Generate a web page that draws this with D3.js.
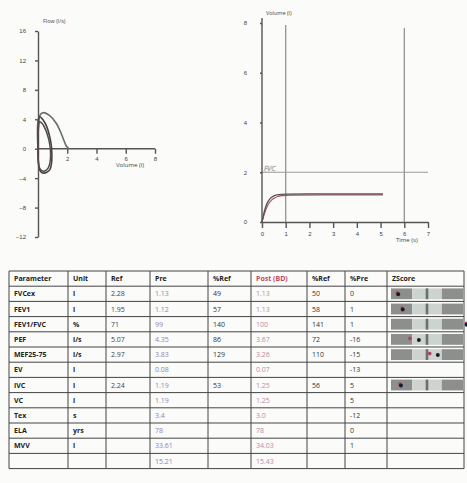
<!DOCTYPE html>
<html>
<head>
<meta charset="utf-8">
<script src="https://cdn.jsdelivr.net/npm/d3@7"></script>
<style>
  body { margin: 0; background: #fbfbfa; }
  svg { display: block; font-family: "Open Sans", sans-serif; }
  .axis path, .axis line { stroke: #555; stroke-width: 1.4; }
  .axis text { fill: #444; font-size: 6px; }
  .grid { stroke: #8a8a8a; stroke-width: 1.2; }
  .tbl line { stroke: #444; stroke-width: 1; }
  .tbl text { font-size: 7px; fill: #333; }
</style>
</head>
<body>
<svg id="page" width="467" height="483"></svg>
<script>
// ---- flow / volume loop (l, l/s) ----
const fvTicksX = [ 2, 4, 6, 8 ]
const fvTicksY = [ -12, -8, -4, 0, 4, 8, 12, 16 ]

const predVol  = [ 0, 0.05, 0.33, 0.8, 1.27, 1.6, 1.93, 2.1 ]
const predFlow = [ 0, 4.2, 4.9, 4.5, 3.4, 2.0, 0.4, 0 ]

const preVol   = [ 0, 0.03, 0.12, 0.35, 0.6, 0.78, 0.9, 0.95, 0.92, 0.82, 0.6, 0.32, 0.12, 0.02, 0 ]
const preFlow  = [ 0, 3.2, 4.35, 3.9, 3.0, 1.8, 0.6, -0.8, -2.0, -2.8, -3.2, -3.3, -2.9, -1.8, 0 ]

const postVol  = [ 0, 0.03, 0.1, 0.3, 0.52, 0.7, 0.82, 0.86, 0.82, 0.7, 0.5, 0.28, 0.1, 0.02, 0 ]
const postFlow = [ 0, 2.8, 3.67, 3.4, 2.6, 1.5, 0.4, -0.8, -1.9, -2.6, -3.0, -3.0, -2.6, -1.5, 0 ]

// ---- volume / time (s, l) ----
const vtTicksX = [ 0, 1, 2, 3, 4, 5, 6, 7 ]
const vtTicksY = [ 0, 2, 4, 6, 8 ]
const vtMarkers = [ 1, 6 ]
const vtRefLevel = 2

const preTime  = [ 0, 0.1, 0.2, 0.35, 0.5, 0.7, 1.0, 2.0, 3.5, 5.1 ]
const preVolT  = [ 0, 0.42, 0.72, 0.95, 1.05, 1.1, 1.12, 1.13, 1.13, 1.13 ]
const postTime = [ 0, 0.12, 0.25, 0.4, 0.6, 0.85, 1.2, 2.5, 5.1 ]
const postVolT = [ 0, 0.38, 0.68, 0.88, 1.0, 1.06, 1.08, 1.09, 1.09 ]

// ---- results table ----
const headers  = [ 'Parameter', 'Unit', 'Ref', 'Pre', '%Ref', 'Post (BD)', '%Ref', '%Pre', 'ZScore' ]
const params   = [ 'FVCex', 'FEV1', 'FEV1/FVC', 'PEF', 'MEF25-75', 'EV', 'IVC', 'VC', 'Tex', 'ELA', 'MVV', '' ]
const units    = [ 'l', 'l', '%', 'l/s', 'l/s', 'l', 'l', 'l', 's', 'yrs', 'l', '' ]
const refVals  = [ '2.28', '1.95', '71', '5.07', '2.97', '', '2.24', '', '', '', '', '' ]
const preVals  = [ '1.13', '1.12', '99', '4.35', '3.83', '0.08', '1.19', '1.19', '3.4', '78', '33.61', '15.21' ]
const preRef   = [ '49', '57', '140', '86', '129', '', '53', '', '', '', '', '' ]
const postVals = [ '1.13', '1.13', '100', '3.67', '3.26', '0.07', '1.25', '1.25', '3.0', '78', '34.03', '15.43' ]
const postRef  = [ '50', '58', '141', '72', '110', '', '56', '', '', '', '', '' ]
const pctPre   = [ '0', '1', '1', '-16', '-15', '-13', '5', '5', '-12', '0', '1', '' ]
const zPre     = [ -3.2, -2.7, 4.4, -0.9, 1.2, null, -2.9, null, null, null, null, null ]
const zPost    = [ -3.3, -2.75, 4.4, -1.9, 0.3, null, -3.0, null, null, null, null, null ]

const svg = d3.select('#page')

// ================= flow-volume =================
const fvX = d3.scaleLinear().domain([ 0, 8 ]).range([ 38, 155 ])
const fvY = d3.scaleLinear().domain([ -12, 16 ]).range([ 237, 31 ])

const fv = svg.append('g')

fv.append('g')
    .attr('class', 'axis')
    .attr('transform', `translate( ${fvX(0)}, 0 )`)
    .call( d3.axisLeft( fvY ).tickValues( fvTicksY ).tickSize(3).tickPadding(9).tickSizeOuter(0) )

fv.append('g')
    .attr('class', 'axis')
    .attr('transform', `translate( 0, ${fvY(0)} )`)
    .call( d3.axisBottom( fvX ).tickValues( fvTicksX ).tickSize(5).tickPadding(3).tickSizeOuter(0) )
    .select('.domain').attr('d', `M${fvX(0)},0H${fvX(8)}`)

fv.append('text').attr('x', 43).attr('y', 23).attr('font-size', 5.5).attr('fill', '#444').text('Flow (l/s)')
fv.append('text').attr('x', 130).attr('y', 167).attr('font-size', 6).attr('fill', '#444')
    .attr('text-anchor', 'middle').text('Volume (l)')

const fvLine = d3.line().x( d => fvX( d[0] ) ).y( d => fvY( d[1] ) ).curve( d3.curveCatmullRom )

fv.append('path')
    .attr('d', fvLine( d3.zip( predVol, predFlow ) ))
    .attr('fill', 'none').attr('stroke', '#6b6b6b').attr('stroke-width', 1.6)
fv.append('path')
    .attr('d', fvLine( d3.zip( preVol, preFlow ) ))
    .attr('fill', 'none').attr('stroke', '#444').attr('stroke-width', 1.6)
fv.append('path')
    .attr('d', fvLine( d3.zip( postVol, postFlow ) ))
    .attr('fill', 'none').attr('stroke', '#5a4848').attr('stroke-width', 1.5)

// ================= volume-time =================
const vtX = d3.scaleLinear().domain([ 0, 7 ]).range([ 262, 428 ])
const vtY = d3.scaleLinear().domain([ 0, 8 ]).range([ 222, 23 ])

const vt = svg.append('g')

vtMarkers.forEach( t => {
    vt.append('line').attr('class', 'grid')
        .attr('x1', vtX(t)).attr('x2', vtX(t))
        .attr('y1', vtY(0)).attr('y2', t === 1 ? 25 : 28)
} )

vt.append('line')
    .attr('x1', vtX(0)).attr('x2', vtX(7))
    .attr('y1', vtY(vtRefLevel)).attr('y2', vtY(vtRefLevel))
    .attr('stroke', '#9a9a9a').attr('stroke-width', 1.1)
vt.append('text')
    .attr('x', vtX(0) + 2).attr('y', vtY(vtRefLevel) - 1)
    .attr('font-size', 7).attr('font-style', 'italic')
    .attr('fill', 'none').attr('stroke', '#aaa').attr('stroke-width', 0.5)
    .text('FVC')

vt.append('g')
    .attr('class', 'axis')
    .attr('transform', `translate( ${vtX(0)}, 0 )`)
    .call( d3.axisLeft( vtY ).tickValues( vtTicksY ).tickSize(2).tickPadding(13).tickSizeOuter(0) )
    .select('.domain').attr('d', `M0,${vtY(0)}V18`)

vt.append('g')
    .attr('class', 'axis')
    .attr('transform', `translate( 0, ${vtY(0)} )`)
    .call( d3.axisBottom( vtX ).tickValues( vtTicksX ).tickFormat( d3.format('d') )
        .tickSize(6).tickPadding(4).tickSizeOuter(0) )

vt.append('text').attr('x', 266).attr('y', 15).attr('font-size', 5.5).attr('fill', '#444').text('Volume (l)')
vt.append('text').attr('x', 396).attr('y', 242).attr('font-size', 6).attr('fill', '#444').text('Time (s)')

const vtLine = d3.line().x( d => vtX( d[0] ) ).y( d => vtY( d[1] ) ).curve( d3.curveMonotoneX )

vt.append('path')
    .attr('d', vtLine( d3.zip( postTime, postVolT ) ))
    .attr('fill', 'none').attr('stroke', '#b0485a').attr('stroke-width', 1.1)
vt.append('path')
    .attr('d', vtLine( d3.zip( preTime, preVolT ) ))
    .attr('fill', 'none').attr('stroke', '#555').attr('stroke-width', 1.4)

// ================= table =================
const colEdges = [ 9, 68, 106, 150, 208, 251, 307, 345, 387, 464 ]
const rowTop = 271, rowH = 15.2
const nRows = params.length + 1

const tbl = svg.append('g').attr('class', 'tbl')

d3.range( nRows + 1 ).forEach( r => {
    tbl.append('line')
        .attr('x1', colEdges[0]).attr('x2', colEdges[colEdges.length - 1])
        .attr('y1', rowTop + r * rowH).attr('y2', rowTop + r * rowH)
} )
colEdges.forEach( x => {
    tbl.append('line')
        .attr('x1', x).attr('x2', x)
        .attr('y1', rowTop).attr('y2', rowTop + nRows * rowH)
} )

headers.forEach( ( h, i ) => {
    tbl.append('text')
        .attr('x', colEdges[i] + 5).attr('y', rowTop + rowH / 2 + 2.5)
        .attr('font-weight', 'bold')
        .style('fill', i === 5 ? '#c24a60' : '#222')
        .text(h)
} )

const columns = [
    { vals: params,   color: '#222', bold: true },
    { vals: units,    color: '#222', bold: true },
    { vals: refVals,  color: '#444' },
    { vals: preVals,  color: '#8b86b3' },
    { vals: preRef,   color: '#333' },
    { vals: postVals, color: '#b58ea6' },
    { vals: postRef,  color: '#333' },
    { vals: pctPre,   color: '#333' }
]

columns.forEach( ( col, c ) => {
    col.vals.forEach( ( v, r ) => {
        tbl.append('text')
            .attr('x', colEdges[c] + 5)
            .attr('y', rowTop + ( r + 1 ) * rowH + rowH / 2 + 2.5)
            .attr('font-weight', col.bold ? 'bold' : 'normal')
            .style('fill', col.color)
            .text(v)
    } )
} )

// z-score bars
const zX = d3.scaleLinear().domain([ -4, 4 ]).range([ 391, 463 ])
const zBands = [ [ -4, -1.645, '#8d8f8d' ], [ -1.645, 1.645, '#cdd3ce' ], [ 1.645, 4, '#8d8f8d' ] ]

zPre.forEach( ( z, r ) => {
    if( z === null ) return
    const y = rowTop + ( r + 1 ) * rowH + 2.2
    const h = rowH - 4.4
    zBands.forEach( ( [ a, b, fill ] ) => {
        svg.append('rect')
            .attr('x', zX(a)).attr('width', zX(b) - zX(a))
            .attr('y', y).attr('height', h)
            .attr('fill', fill)
    } )
    svg.append('rect')
        .attr('x', zX(0) - 1.3).attr('width', 2.6)
        .attr('y', y).attr('height', h)
        .attr('fill', '#6d6f6d')

    svg.append('circle')
        .attr('cx', zX( zPost[r] )).attr('cy', y + h / 2 - 1).attr('r', 1.8)
        .attr('fill', '#b0405a')
    svg.append('circle')
        .attr('cx', zX( z )).attr('cy', y + h / 2 + 0.5).attr('r', 2)
        .attr('fill', '#1a1a2a')
} )
</script>
</body>
</html>
